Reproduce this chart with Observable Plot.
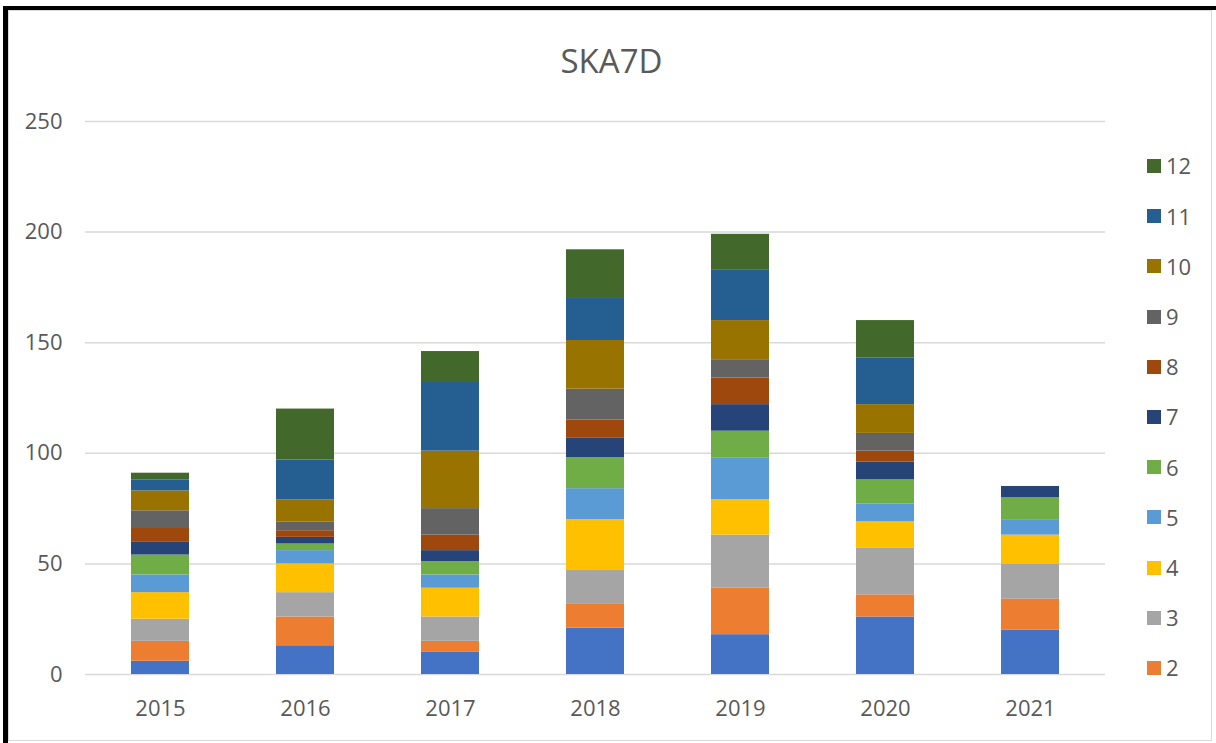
<!DOCTYPE html>
<html>
<head>
<meta charset="utf-8">
<script src="https://cdn.jsdelivr.net/npm/d3@7"></script>
<script src="https://cdn.jsdelivr.net/npm/@observablehq/plot@0.6"></script>
<style>
  html, body { margin: 0; padding: 0; background: #fff; }
  #wrap { position: relative; width: 1216px; height: 743px; overflow: hidden; font-family: "Open Sans", sans-serif; }
  #chart { position: absolute; left: 0; top: 0; }
  #frame { position: absolute; left: 3px; top: 6px; width: 1216px; height: 743px; border-left: 5px solid #000; border-top: 4px solid #000; box-sizing: border-box; }
  #inner { position: absolute; left: 8px; top: 10px; width: 1204px; height: 731px; border: 1px solid #d9d9d9; box-sizing: border-box; }
  #title { position: absolute; left: 0; width: 1223px; top: 44px; text-align: center; font-size: 33px; line-height: 1; color: #595959; }
  .lg-sw { position: absolute; width: 14px; height: 14px; }
  .lg-tx { position: absolute; font-size: 22px; line-height: 1; color: #595959; }
</style>
</head>
<body>
<div id="wrap">
  <div id="inner"></div>
  <div id="frame"></div>
  <div id="chart"></div>
  <div id="title">SKA7D</div>
</div>
<script>
const years = ["2015", "2016", "2017", "2018", "2019", "2020", "2021"];
const seriesNames = ["1", "2", "3", "4", "5", "6", "7", "8", "9", "10", "11", "12"];
const colors = ["#4472C4", "#ED7D31", "#A5A5A5", "#FFC000", "#5B9BD5", "#70AD47",
                "#264478", "#9E480E", "#636363", "#997300", "#255E91", "#43682B"];
const s1  = [6, 13, 10, 21, 18, 26, 20];
const s2  = [9, 13, 5, 11, 21, 10, 14];
const s3  = [10, 11, 11, 15, 24, 21, 16];
const s4  = [12, 13, 13, 23, 16, 12, 13];
const s5  = [8, 6, 6, 14, 19, 8, 7];
const s6  = [9, 3, 6, 14, 12, 11, 10];
const s7  = [6, 3, 5, 9, 12, 8, 5];
const s8  = [6, 3, 7, 8, 12, 5, 0];
const s9  = [8, 4, 12, 14, 8, 8, 0];
const s10 = [9, 10, 26, 22, 18, 13, 0];
const s11 = [5, 18, 31, 19, 23, 21, 0];
const s12 = [3, 23, 14, 22, 16, 17, 0];
const yTicks = [0, 50, 100, 150, 200, 250];
const legendShown = ["12", "11", "10", "9", "8", "7", "6", "5", "4", "3", "2"];

const allSeries = [s1, s2, s3, s4, s5, s6, s7, s8, s9, s10, s11, s12];
const data = [];
allSeries.forEach((vals, i) => {
  vals.forEach((v, j) => data.push({year: years[j], series: seriesNames[i], value: v}));
});

const chart = Plot.plot({
  width: 1216,
  height: 743,
  marginLeft: 85,
  marginRight: 111,
  marginTop: 121,
  marginBottom: 69,
  style: {fontFamily: "Open Sans, sans-serif", fontSize: "22px", color: "#595959", background: "transparent", overflow: "visible"},
  x: {domain: years, paddingInner: 0.6, paddingOuter: 0.3, label: null},
  y: {domain: [0, 250], label: null},
  color: {domain: seriesNames, range: colors},
  marks: [
    Plot.gridY(yTicks, {stroke: "#d9d9d9", strokeOpacity: 1, strokeWidth: 1.5}),
    Plot.barY(data, {x: "year", y: "value", fill: "series", inset: 0}),
    Plot.axisX({tickSize: 0, tickPadding: 26, fill: "#595959", fontSize: 22}),
    Plot.axisY(yTicks, {tickSize: 0, tickPadding: 23, fill: "#595959", fontSize: 22})
  ]
});
document.getElementById("chart").appendChild(chart);

// Vertical legend (series 12 at top down to 2; series 1 is cut off in the original)
const wrap = document.getElementById("wrap");
legendShown.forEach((name, i) => {
  const cy = 166 + i * 50.2;
  const col = colors[seriesNames.indexOf(name)];
  const sw = document.createElement("div");
  sw.className = "lg-sw";
  sw.style.left = "1147px";
  sw.style.top = (cy - 7) + "px";
  sw.style.background = col;
  wrap.appendChild(sw);
  const tx = document.createElement("div");
  tx.className = "lg-tx";
  tx.style.left = "1166px";
  tx.style.top = (cy - 11.7) + "px";
  tx.textContent = name;
  wrap.appendChild(tx);
});
</script>
</body>
</html>
